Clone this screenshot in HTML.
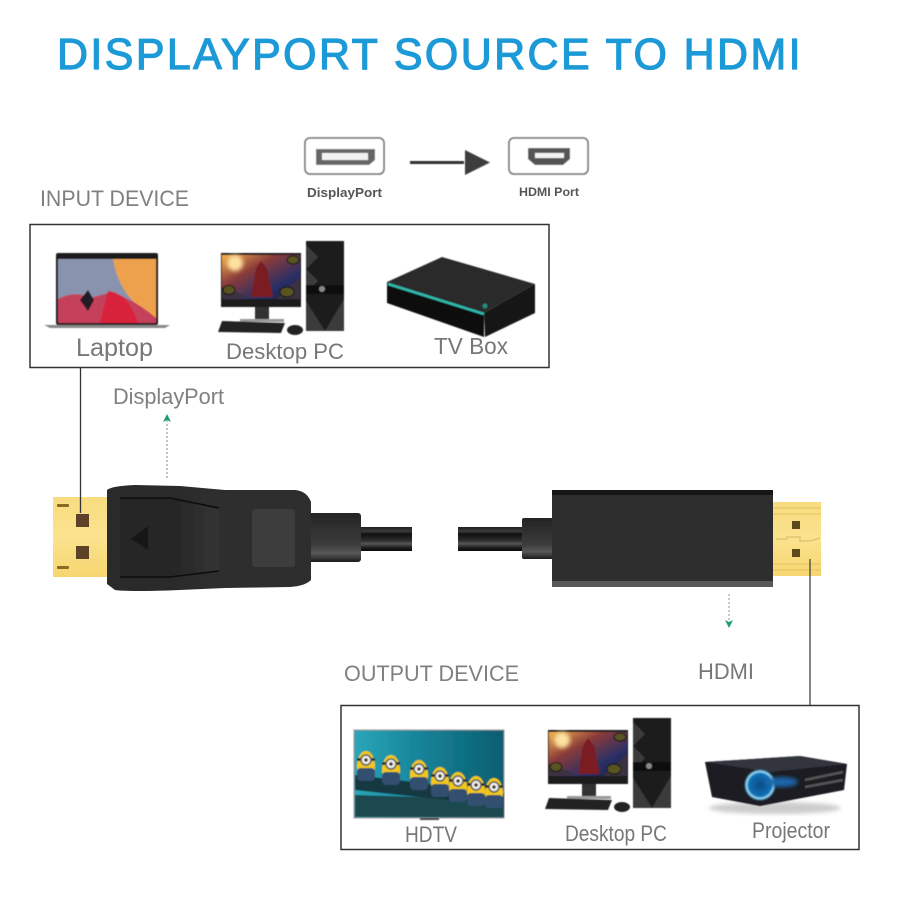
<!DOCTYPE html>
<html><head><meta charset="utf-8"><style>
html,body{margin:0;padding:0;background:#fff}
svg{display:block}
text{font-family:"Liberation Sans",sans-serif}
</style></head><body>
<svg xmlns="http://www.w3.org/2000/svg" width="898" height="898" viewBox="0 0 898 898">
<defs>
<linearGradient id="gold" x1="0" y1="0" x2="0" y2="1"><stop offset="0" stop-color="#f8dc80"/><stop offset=".5" stop-color="#fbe28e"/><stop offset="1" stop-color="#f6d670"/></linearGradient>
<linearGradient id="cable" x1="0" y1="0" x2="0" y2="1"><stop offset="0" stop-color="#222"/><stop offset=".18" stop-color="#3a3a3a"/><stop offset=".3" stop-color="#111"/><stop offset=".55" stop-color="#2b2b2b"/><stop offset=".7" stop-color="#555"/><stop offset=".85" stop-color="#222"/><stop offset="1" stop-color="#050505"/></linearGradient>
<linearGradient id="collar" x1="0" y1="0" x2="0" y2="1"><stop offset="0" stop-color="#252525"/><stop offset=".3" stop-color="#2f2f2f"/><stop offset=".65" stop-color="#3c3c3c"/><stop offset=".82" stop-color="#585858"/><stop offset="1" stop-color="#1c1c1c"/></linearGradient>
<linearGradient id="dp" x1="0" y1="0" x2="1" y2="0"><stop offset="0" stop-color="#2a2a2a"/><stop offset=".5" stop-color="#2d2d2d"/><stop offset="1" stop-color="#2e2e2e"/></linearGradient>
<linearGradient id="latch" x1="0" y1="0" x2="1" y2="0"><stop offset="0" stop-color="#262626"/><stop offset=".6" stop-color="#282828"/><stop offset="1" stop-color="#343434"/></linearGradient>
<linearGradient id="sky" x1="0" y1="0" x2="1" y2="1"><stop offset="0" stop-color="#f6b04a"/><stop offset=".35" stop-color="#8a3b3a"/><stop offset=".7" stop-color="#2a2f66"/><stop offset="1" stop-color="#1a2040"/></linearGradient>
<linearGradient id="tv" x1="0" y1="0" x2="1" y2="0"><stop offset="0" stop-color="#2aa6b8"/><stop offset=".5" stop-color="#147f94"/><stop offset="1" stop-color="#0d5d70"/></linearGradient>
<radialGradient id="lens"><stop offset="0" stop-color="#0a4c80"/><stop offset=".7" stop-color="#1270b8"/><stop offset=".85" stop-color="#9fe0f5"/><stop offset="1" stop-color="#1a5a90" stop-opacity=".4"/></radialGradient>
<filter id="b" x="-5%" y="-5%" width="110%" height="110%"><feGaussianBlur stdDeviation=".6"/></filter>
<filter id="t" x="-5%" y="-20%" width="110%" height="140%"><feGaussianBlur stdDeviation=".35"/></filter>
<filter id="b2" x="-20%" y="-20%" width="140%" height="140%"><feGaussianBlur stdDeviation="2"/></filter>
<g id="pc">
  <rect x="0" y="6" width="80" height="54" fill="#1a1a1a"/>
  <rect x="1" y="8" width="78" height="44" fill="url(#sky)"/>
  <circle cx="14" cy="16" r="8" fill="#fde2a0" filter="url(#b2)"/>
  <path d="M30 50 L35 22 L40 14 L46 22 L52 50Z" fill="#7a1f24"/>
  <path d="M1 40 L28 50 L1 52Z M79 30 L55 52 L79 52Z" fill="#3a3040"/>
  <ellipse cx="72" cy="13" rx="6" ry="4" fill="#5a5320" stroke="#111"/>
  <ellipse cx="8" cy="43" rx="6" ry="4.500" fill="#5a5320" stroke="#111"/>
  <ellipse cx="66" cy="45" rx="7" ry="5" fill="#5a5320" stroke="#111"/>
  <rect x="34" y="60" width="14" height="14" fill="#333"/>
  <rect x="19" y="72" width="44" height="3" fill="#999"/>
  <path d="M1 74 L64 76 L60 86 L-3 85Z" fill="#222"/>
  <ellipse cx="74" cy="83" rx="8" ry="5" fill="#222"/>
  <rect x="85" y="-6" width="38" height="90" fill="#1e1e1e"/>
  <path d="M85 -2 L97 10 L85 22 L97 34 L85 46Z M85 54 L104 84 H85Z M123 52 L104 84 H123Z" fill="#3b3b3b"/>
  <rect x="85" y="38" width="38" height="9" fill="#0d0d0d"/>
  <circle cx="101" cy="42" r="3" fill="#888"/>
</g>
<g id="minion">
  <ellipse cx="0" cy="0" rx="9" ry="15" fill="#f2c81e"/>
  <rect x="-9" y="2" width="18" height="13" rx="4" fill="#31506f"/>
  <rect x="-9" y="-8" width="18" height="3" fill="#333"/>
  <circle cx="0" cy="-6" r="5" fill="#eee" stroke="#555" stroke-width="1.500"/>
  <circle cx="0" cy="-6" r="1.800" fill="#432"/>
</g>
</defs>

<rect width="898" height="898" fill="#fff"/>

<g filter="url(#t)">
<text x="57" y="69" font-size="44" textLength="746" lengthAdjust="spacingAndGlyphs" style="letter-spacing:2.500px" fill="#1b9ad8" stroke="#1b9ad8" stroke-width="1.200">DISPLAYPORT SOURCE TO HDMI</text>
</g>

<!-- port icons -->
<g filter="url(#b)">
<rect x="305" y="138" width="79" height="36" rx="5" fill="#fff" stroke="#666" stroke-width="1.500"/>
<path d="M316 149 H375 V160 L369 165 H316Z" fill="#666"/>
<rect x="322" y="153" width="46" height="7" fill="#f2f2f2"/>
<rect x="509" y="138" width="79" height="36" rx="5" fill="#fff" stroke="#666" stroke-width="1.500"/>
<path d="M528 148 H570 V159 L563 165 H535 L528 159Z" fill="#555"/>
<rect x="535" y="153" width="29" height="5" fill="#f2f2f2"/>
<rect x="410" y="161" width="54" height="3" fill="#333"/>
<path d="M465 150 L490 162.500 L465 175Z" fill="#3d3d3d"/>
</g>
<g filter="url(#t)">
<text x="307" y="197" font-size="13" font-weight="bold" fill="#555" textLength="75" lengthAdjust="spacingAndGlyphs">DisplayPort</text>
<text x="519" y="196" font-size="12" font-weight="bold" fill="#555" textLength="60" lengthAdjust="spacingAndGlyphs">HDMI Port</text>
<text x="40" y="206" font-size="22" fill="#808080" textLength="149" lengthAdjust="spacingAndGlyphs">INPUT DEVICE</text>
</g>

<!-- input box -->
<rect x="30" y="224.500" width="519" height="143" fill="#fff" stroke="#333" stroke-width="1.500"/>
<!-- laptop -->
<g filter="url(#b)">
<rect x="56" y="253" width="102" height="72" rx="2" fill="#1a1a1a"/>
<rect x="58" y="259" width="98" height="64" fill="#8a93ad"/>
<path d="M113 259 H156 V318 Q120 300 113 259Z" fill="#eea14e"/>
<path d="M58 299 Q75 290 90 298 L112 292 Q135 300 156 318 V323 H58Z" fill="#c5405a"/>
<path d="M108 291 Q128 293 138 323 H100Z" fill="#d8203a"/>
<path d="M80 300 L88 290 L94 300 L88 311Z" fill="#201a26"/>
<path d="M44 325 H170 L165 328 H50Z" fill="#888"/>
</g>
<use href="#pc" x="221" y="247" filter="url(#b)"/>
<!-- tv box -->
<g filter="url(#b)">
<path d="M387 282 L442 257 L535 284 L484 313Z" fill="#2a2a2a"/>
<path d="M387 282 L484 313 V337 L387 303Z" fill="#0d0d0d"/>
<path d="M484 313 L535 284 V313 L485 337Z" fill="#191919"/>
<path d="M388 284 L484 314" stroke="#2fb8ab" stroke-width="2.500" fill="none"/>
<circle cx="485" cy="306" r="2.500" fill="#1f8e80"/>
</g>
<g filter="url(#t)">
<text x="76" y="356" font-size="25" fill="#777" textLength="77" lengthAdjust="spacingAndGlyphs">Laptop</text>
<text x="226" y="359" font-size="22.500" fill="#777" textLength="118" lengthAdjust="spacingAndGlyphs">Desktop PC</text>
<text x="434" y="354" font-size="23" fill="#777" textLength="74" lengthAdjust="spacingAndGlyphs">TV Box</text>
<text x="113" y="404" font-size="22" fill="#808080" textLength="111" lengthAdjust="spacingAndGlyphs">DisplayPort</text>
</g>
<line x1="167" y1="478" x2="167" y2="420" stroke="#88a89a" stroke-width="1.200" stroke-dasharray="2 2"/>
<path d="M163 422 L167 414 L171 422 L167 420Z" fill="#1f9a70"/>

<!-- DP plug -->
<g filter="url(#t)">
<rect x="53" y="497" width="54" height="80" fill="url(#gold)"/>
<rect x="57" y="504" width="12" height="3" rx="1" fill="#8a6a20"/>
<rect x="57" y="566" width="12" height="3" rx="1" fill="#8a6a20"/>
<rect x="76" y="514" width="13" height="13" fill="#5c4325"/>
<rect x="76" y="546" width="13" height="13" fill="#5c4325"/>
<rect x="361" y="527" width="51" height="24" fill="url(#cable)"/>
<rect x="305" y="513" width="56" height="49" rx="3" fill="url(#collar)"/>
<path d="M107 490 Q112 486 135 485 L180 486 L225 490 L295 490 Q307 491 311 502 V580 Q305 586 290 587 L225 588 L180 590 Q130 592 115 590 L107 584Z" fill="url(#dp)"/>
<path d="M120 498 H170 L219 508 V571 L170 577 H120Z" fill="url(#latch)"/>
<path d="M120 498 H170 L219 508 M120 577 H170 L219 571" fill="none" stroke="#0a0a0a" stroke-width="1.500"/>
<rect x="252" y="509" width="43" height="58" rx="3" fill="#3e3e3e"/>
<path d="M148 526 L131 539 L148 550Z" fill="#151515"/>
</g>
<!-- HDMI plug -->
<g filter="url(#t)">
<rect x="458" y="527" width="65" height="24" fill="url(#cable)"/>
<rect x="522" y="518" width="31" height="41" rx="2" fill="url(#collar)"/>
<rect x="773" y="502" width="48" height="74" fill="url(#gold)"/>
<path d="M773 508 H821 M773 514 H821 M773 564 H821 M773 570 H821" stroke="#e8c765" stroke-width="1.200"/>
<path d="M776 539 H787 V537 H800 V541 H810 L820 538" fill="none" stroke="#d8b860" stroke-width="1"/>
<rect x="792" y="521" width="8" height="8" fill="#5c4a1c"/>
<rect x="792" y="549" width="8" height="8" fill="#5c4a1c"/>
<rect x="552" y="490" width="221" height="97" rx="1.500" fill="#2e2e2e"/>
<rect x="552" y="490" width="221" height="5" fill="#151515"/>
<rect x="552" y="581" width="221" height="6" fill="#595959"/>
</g>

<!-- leaders over the plugs -->
<line x1="80.500" y1="368" x2="80.500" y2="513" stroke="#333" stroke-width="1.300"/>
<line x1="810" y1="559" x2="810" y2="706" stroke="#444" stroke-width="1.300"/>
<line x1="729" y1="594" x2="729" y2="622" stroke="#9aa" stroke-width="1.200" stroke-dasharray="2 2"/>
<path d="M725 620 L729 628 L733 620 L729 622Z" fill="#1f9a70"/>
<g filter="url(#t)">
<text x="698" y="679" font-size="22" fill="#777" textLength="56" lengthAdjust="spacingAndGlyphs">HDMI</text>
<text x="344" y="681" font-size="22" fill="#808080" textLength="175" lengthAdjust="spacingAndGlyphs">OUTPUT DEVICE</text>
</g>

<!-- output box -->
<rect x="341" y="705.500" width="518" height="144" fill="#fff" stroke="#333" stroke-width="1.500"/>
<g filter="url(#b)">
<rect x="354" y="730" width="150" height="88" fill="url(#tv)" stroke="#999" stroke-width="1"/>
<path d="M355 795 L504 800 V817 H355Z" fill="#1f4a50"/>
<path d="M355 775 L504 793 V806 L355 790Z" fill="#163840"/>
<use href="#minion" x="366" y="766"/>
<use href="#minion" x="391" y="770"/>
<use href="#minion" x="419" y="775"/>
<use href="#minion" x="440" y="782"/>
<use href="#minion" x="458" y="787"/>
<use href="#minion" x="476" y="791"/>
<use href="#minion" x="494" y="793"/>
<rect x="420" y="818" width="19" height="2" fill="#444"/>
</g>
<use href="#pc" x="548" y="724" filter="url(#b)"/>
<!-- projector -->
<ellipse cx="775" cy="808" rx="66" ry="6" fill="#ccc" filter="url(#b2)"/>
<g filter="url(#b)">
<path d="M705 762 L800 756 L847 764 L844 790 L760 806 L712 797Z" fill="#1a1c20"/>
<path d="M705 762 L800 756 L847 764 L770 772Z" fill="#33363d"/>
<circle cx="760" cy="785" r="16" fill="url(#lens)"/>
<ellipse cx="782" cy="782" rx="16" ry="5" fill="#1a66aa" filter="url(#b2)"/>
<path d="M805 780 L843 772 M805 787 L843 780" stroke="#555" stroke-width="2.500"/>
</g>
<g filter="url(#t)">
<text x="405" y="842" font-size="22" fill="#777" textLength="52" lengthAdjust="spacingAndGlyphs">HDTV</text>
<text x="565" y="841" font-size="22" fill="#777" textLength="102" lengthAdjust="spacingAndGlyphs">Desktop PC</text>
<text x="752" y="838" font-size="22" fill="#777" textLength="78" lengthAdjust="spacingAndGlyphs">Projector</text>
</g>
</svg>
</body></html>
